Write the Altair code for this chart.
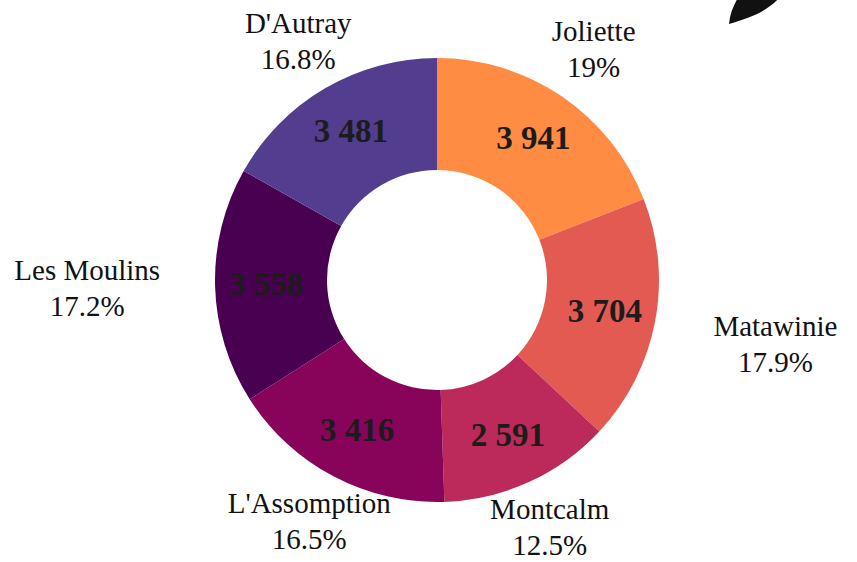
import altair as alt
import pandas as pd

regions = ["Joliette", "Matawinie", "Montcalm", "L'Assomption", "Les Moulins", "D'Autray"]
counts = [3941, 3704, 2591, 3416, 3558, 3481]
colors = ["#FF8C42", "#E35A53", "#BB2A5A", "#88045A", "#4A0051", "#523D8E"]

df = pd.DataFrame({"region": regions, "count": counts, "order": list(range(len(regions)))})

FONT = "Liberation Serif"

theta = alt.Theta("count:Q", stack=True)
order = alt.Order("order:Q", sort="ascending")
color = alt.Color("region:N", scale=alt.Scale(domain=regions, range=colors), legend=None)

base = alt.Chart(df).encode(theta=theta, order=order)

arcs = base.mark_arc(innerRadius=110, outerRadius=222).encode(color=color)

values = base.mark_text(
    radius=171, font=FONT, fontSize=33, fontWeight="bold", color="#1c1c1c"
).encode(text=alt.Text("count:Q", format=",d"))

lab = (
    alt.Chart(df)
    .transform_joinaggregate(total="sum(count)")
    .transform_window(cum="sum(count)", sort=[alt.SortField("order")], frame=[None, 0])
    .transform_calculate(
        pct="datum.count / datum.total",
        mid="(datum.cum - datum.count / 2) / datum.total * 2 * PI",
        r="270 + 80 * pow(sin(datum.mid), 4)",
    )
    .encode(
        theta=alt.Theta("mid:Q", scale=None),
        radius=alt.Radius("r:Q", scale=None),
    )
)

names = lab.mark_text(font=FONT, fontSize=29, color="#111111", dy=-18).encode(
    text="region:N"
)
pcts = lab.mark_text(font=FONT, fontSize=29, color="#111111", dy=18).encode(
    text=alt.Text("pct:Q", format=".1~%")
)

deco = (
    alt.Chart(pd.DataFrame({"d": [0]}))
    .mark_point(
        shape="M -26 24 C -25 14 -22 6 -16 -4 L 26 -4 C 10 14 -8 18 -26 24 Z",
        filled=True,
        color="#111111",
        opacity=1,
        size=4,
    )
    .encode(x=alt.value(738), y=alt.value(0))
)

chart = (
    alt.layer(arcs, values, names, pcts, deco)
    .properties(
        width=840,
        height=560,
        padding={"left": 17, "top": 0, "right": 0, "bottom": 0},
        autosize=alt.AutoSizeParams(type="none"),
        view=alt.ViewBackground(stroke="transparent", strokeWidth=0),
    )
    .configure_view(stroke="transparent", strokeWidth=0)
    .configure(locale={"number": {"decimal": ".", "thousands": " ", "grouping": [3], "currency": ["", ""]}})
)

chart.save("out.html", embed_options={"renderer": "svg", "actions": False})
